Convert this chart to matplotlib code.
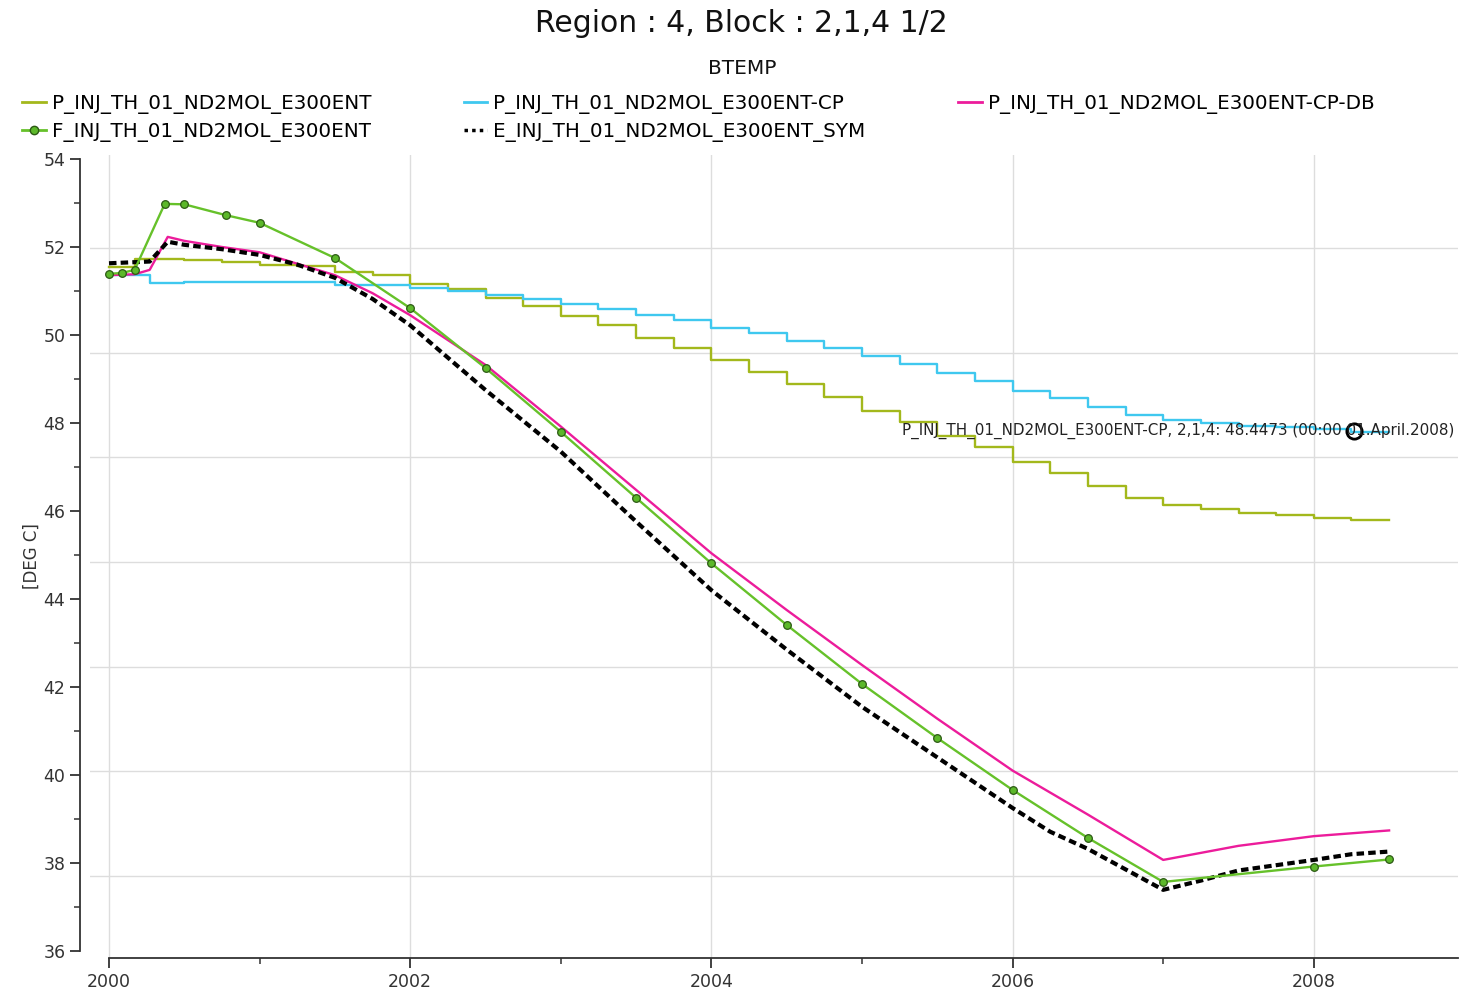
import matplotlib
matplotlib.use("Agg")
import matplotlib.pyplot as plt
from matplotlib.lines import Line2D
from matplotlib.ticker import MultipleLocator

plt.rcParams['font.family'] = ['DejaVu Sans']

# ---------------- data ----------------
title = "Region : 4, Block : 2,1,4 1/2"
subtitle = "BTEMP"
ylabel = "[DEG C]"

names = ["P_INJ_TH_01_ND2MOL_E300ENT",
         "P_INJ_TH_01_ND2MOL_E300ENT-CP",
         "P_INJ_TH_01_ND2MOL_E300ENT-CP-DB",
         "F_INJ_TH_01_ND2MOL_E300ENT",
         "E_INJ_TH_01_ND2MOL_E300ENT_SYM"]

# P_..._E300ENT (step series, value holds from listed time onward)
p_t = [2000.0, 2000.17, 2000.5, 2000.75, 2001.0, 2001.25, 2001.5, 2001.75,
       2002.0, 2002.25, 2002.5, 2002.75, 2003.0, 2003.25, 2003.5, 2003.75,
       2004.0, 2004.25, 2004.5, 2004.75, 2005.0, 2005.25, 2005.5, 2005.75,
       2006.0, 2006.25, 2006.5, 2006.75, 2007.0, 2007.25, 2007.5, 2007.75,
       2008.0, 2008.25, 2008.5]
p_v = [51.55, 51.73, 51.70, 51.65, 51.60, 51.56, 51.44, 51.36,
       51.17, 51.05, 50.85, 50.66, 50.43, 50.23, 49.94, 49.71,
       49.43, 49.17, 48.89, 48.58, 48.28, 48.03, 47.70, 47.45,
       47.12, 46.87, 46.57, 46.30, 46.14, 46.05, 45.96, 45.90,
       45.84, 45.79, 45.79]

# P_..._E300ENT-CP (step series)
cp_t = [2000.0, 2000.27, 2000.5, 2001.5,
        2002.0, 2002.25, 2002.5, 2002.75, 2003.0, 2003.25, 2003.5, 2003.75,
        2004.0, 2004.25, 2004.5, 2004.75, 2005.0, 2005.25, 2005.5, 2005.75,
        2006.0, 2006.25, 2006.5, 2006.75, 2007.0, 2007.25, 2007.5, 2007.75,
        2008.0, 2008.25, 2008.5]
cp_v = [51.36, 51.18, 51.20, 51.14,
        51.06, 51.00, 50.90, 50.82, 50.70, 50.59, 50.45, 50.34,
        50.17, 50.04, 49.87, 49.70, 49.53, 49.34, 49.14, 48.96,
        48.73, 48.56, 48.36, 48.18, 48.07, 47.99, 47.93, 47.90,
        47.86, 47.80, 47.80]

# P_..._E300ENT-CP-DB
db_t = [2000.0, 2000.17, 2000.27, 2000.39, 2000.5, 2000.75, 2001.0, 2001.5,
        2001.75, 2002.0, 2002.5, 2003.0, 2003.5, 2004.0, 2004.5, 2005.0,
        2005.5, 2006.0, 2006.5, 2007.0, 2007.5, 2008.0, 2008.5]
db_v = [51.36, 51.38, 51.48, 52.23, 52.14, 52.00, 51.88, 51.36,
        50.95, 50.45, 49.32, 47.92, 46.48, 45.04, 43.75, 42.50,
        41.28, 40.10, 39.10, 38.07, 38.39, 38.61, 38.74]

# F_..._E300ENT (markers)
f_t = [2000.0, 2000.085, 2000.17, 2000.37, 2000.5, 2000.78, 2001.0, 2001.5,
       2002.0, 2002.5, 2003.0, 2003.5, 2004.0, 2004.5, 2005.0, 2005.5,
       2006.0, 2006.5, 2007.0, 2008.0, 2008.5]
f_v = [51.39, 51.41, 51.48, 52.98, 52.97, 52.72, 52.55, 51.75,
       50.61, 49.25, 47.80, 46.30, 44.81, 43.41, 42.07, 40.84,
       39.66, 38.57, 37.57, 37.92, 38.08]

# E_..._SYM
e_t = [2000.0, 2000.27, 2000.39, 2000.5, 2000.75, 2001.0, 2001.25, 2001.5,
       2001.75, 2002.0, 2002.5, 2003.0, 2003.5, 2004.0, 2004.5, 2005.0,
       2005.5, 2006.0, 2006.25, 2006.5, 2007.0, 2007.25, 2007.5, 2007.75,
       2008.0, 2008.25, 2008.5]
e_v = [51.63, 51.67, 52.12, 52.05, 51.95, 51.82, 51.60, 51.30,
       50.82, 50.22, 48.75, 47.35, 45.76, 44.20, 42.85, 41.55,
       40.40, 39.25, 38.71, 38.32, 37.39, 37.60, 37.83, 37.95,
       38.07, 38.20, 38.26]

annot_x = 2008.27
annot_y = 47.82
annot_text = "P_INJ_TH_01_ND2MOL_E300ENT-CP, 2,1,4: 48.4473 (00:00 01.April.2008)"

# ---------------- figure ----------------
W, H = 1463, 993
fig = plt.figure(figsize=(W / 100, H / 100), dpi=100)

def fx(px):
    return px / W

def fy(py):
    return 1 - py / H

ax_l, ax_r, ax_t, ax_b = 90, 1458, 155, 958
ax = fig.add_axes([fx(ax_l), fy(ax_b), fx(ax_r - ax_l), (ax_b - ax_t) / H])

pxyr = 150.6
x0px = 109
ax.set_xlim(2000 - (x0px - ax_l) / pxyr, 2000 + (ax_r - x0px) / pxyr)
pxunit = 44.0
ax.set_ylim(36 - (ax_b - 951) / pxunit, 54 + (159 - ax_t) / pxunit)

c_olive = "#a3b81c"
c_blue = "#3fc8ef"
c_mag = "#ec1c9b"
c_green = "#66c12a"

ax.plot(p_t, p_v, drawstyle="steps-post", color=c_olive, lw=1.7, zorder=3)
ax.plot(cp_t, cp_v, drawstyle="steps-post", color=c_blue, lw=1.7, zorder=3)
ax.plot(db_t, db_v, color=c_mag, lw=1.7, zorder=4)
ax.plot(e_t, e_v, color="black", lw=3.0, linestyle=(0, (1.8, 1.0)), zorder=5)
ax.plot(f_t, f_v, color=c_green, lw=1.7, marker="o", ms=5.5,
        mfc="#5cb82a", mec="#2c5a14", mew=0.9, zorder=6)

# annotation
ax.plot([annot_x], [annot_y], marker="o", ms=11, mfc="none", mec="black",
        mew=2.0, zorder=8)
ax.text(2000 + (902 - x0px) / pxyr, annot_y, annot_text, fontsize=10.9,
        color="#222222", va="center", ha="left", zorder=9)

# grid
for yr in [2000, 2002, 2004, 2006, 2008]:
    ax.axvline(yr, color="#dddddd", lw=1.0, zorder=1)
grid_y = [51.98, 49.60, 47.22, 44.84, 42.46, 40.08, 37.70]
for gy in grid_y:
    ax.axhline(gy, color="#dddddd", lw=1.0, zorder=1)

# spines / ticks
for s in ["top", "right"]:
    ax.spines[s].set_visible(False)
ax.spines["left"].set_position(("outward", 7.2))
ax.spines["left"].set_bounds(36, 54)
ax.spines["bottom"].set_bounds(2000, ax.get_xlim()[1])
for s in ["left", "bottom"]:
    ax.spines[s].set_color("#333333")
    ax.spines[s].set_linewidth(1.3)

ax.xaxis.set_major_locator(MultipleLocator(2))
ax.xaxis.set_minor_locator(MultipleLocator(1))
ax.yaxis.set_major_locator(MultipleLocator(2))
ax.yaxis.set_minor_locator(MultipleLocator(1))
ax.set_xticks([2000, 2002, 2004, 2006, 2008])
ax.set_xticklabels(["2000", "2002", "2004", "2006", "2008"])
ax.tick_params(axis="both", which="major", length=7, width=1.3,
               color="#333333", labelsize=12.5, labelcolor="#333333")
ax.tick_params(axis="both", which="minor", length=4.5, width=1.1,
               color="#333333")
ax.set_ylabel(ylabel, fontsize=12, color="#333333", labelpad=2)

# title texts
fig.text(fx(741.5), fy(23), title, fontsize=21.5, ha="center", va="center",
         color="#111111")
fig.text(fx(742), fy(69), subtitle, fontsize=14.5, ha="center",
         va="center", color="#111111")

# legend
handles = [
    Line2D([], [], color=c_olive, lw=2),
    Line2D([], [], color=c_green, lw=2, marker="o", ms=6,
           mfc="#5cb82a", mec="#2c5a14"),
    Line2D([], [], color=c_blue, lw=2),
    Line2D([], [], color="black", lw=2.5, linestyle=(0, (1, 1.2))),
    Line2D([], [], color=c_mag, lw=2),
]
labels = [names[0], names[3], names[1], names[4], names[2]]
leg = fig.legend(handles, labels, ncol=3, loc="upper left",
                 bbox_to_anchor=(fx(18), fy(90)), frameon=False,
                 fontsize=14.3, handlelength=1.2, handletextpad=0.3,
                 columnspacing=4.65, labelspacing=0.38, borderpad=0.2,
                 borderaxespad=0)

fig.savefig("out.png", dpi=100)
